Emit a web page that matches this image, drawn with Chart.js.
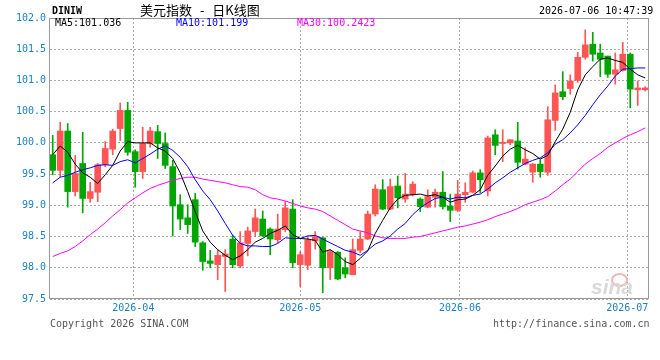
<!DOCTYPE html>
<html>
<head>
<meta charset="utf-8">
<script src="https://cdn.jsdelivr.net/npm/chart.js@4.4.1/dist/chart.umd.min.js"></script>
<style>
  body { margin: 0; background: #fff; }
  #wrap { position: relative; width: 660px; height: 360px; font-family: "DejaVu Sans Mono", monospace; font-size: 10px; }
  #wrap canvas { position: absolute; left: 0; top: 0; }
  .t { position: absolute; white-space: pre; line-height: 12px; }
  .eye { position: absolute; left: 611px; top: 273px; width: 13px; height: 10px; border: 2px solid #f4b4b4; border-radius: 50%; }
</style>
</head>
<body>
<div id="wrap">
  <canvas id="kline" width="660" height="360"></canvas>
  <div class="t" style="left:52px;top:5px;font-weight:bold;">DINIW</div>
  <div class="t" style="left:140px;top:2px;font-family:'Noto Sans CJK SC';font-size:13px;line-height:16px;word-spacing:5px;">美元指数 - 日K线图</div>
  <div class="t" style="left:539px;top:5px;">2026-07-06 10:47:39</div>
  <div class="t" id="ma5txt"  style="left:55px;top:17px;color:#000;"></div>
  <div class="t" id="ma10txt" style="left:176px;top:17px;color:#0000ff;"></div>
  <div class="t" id="ma30txt" style="left:297px;top:17px;color:#ff00ff;"></div>
  <div class="t" style="left:50px;top:318px;color:#555;">Copyright 2026 SINA.COM</div>
  <div class="t" style="left:493px;top:318px;color:#555;">http://finance.sina.com.cn</div>
  <div class="eye"></div>
  <div class="t" style="left:591px;top:276px;font-family:'Liberation Sans';font-size:21px;line-height:22px;font-weight:bold;font-style:italic;color:#d9d9d9;">sina</div>
</div>
<script>
// daily candles, 2026-03-17 .. 2026-07-06 (80 trading days)
const opens = [99.81,99.56,100.19,99.22,99.67,99.11,99.21,99.65,99.90,100.23,
  100.52,99.86,99.54,99.99,100.18,99.99,99.62,99.01,98.80,99.09,
  98.40,98.11,98.05,98.18,98.46,98.03,98.39,98.58,98.78,98.62,
  98.45,98.61,98.94,98.05,98.04,98.43,98.48,98.00,98.25,98.00,
  97.89,98.28,98.46,98.86,99.25,98.94,99.31,99.10,99.17,99.10,
  98.97,99.13,99.21,98.99,98.92,99.17,99.21,99.52,99.23,100.13,
  99.99,100.00,100.03,99.66,99.53,99.66,99.53,100.36,100.82,100.87,
  101.00,101.37,101.58,101.44,101.39,101.10,101.16,101.42,100.85,100.85];
const highs = [100.12,100.33,100.31,99.80,100.17,99.37,99.67,100.02,100.22,100.64,
  100.65,99.89,100.25,100.25,100.28,100.16,99.72,99.17,99.01,99.19,
  98.42,98.28,98.29,98.29,98.52,98.58,98.65,98.94,98.91,98.64,
  98.86,99.06,99.09,98.26,98.51,98.58,98.49,98.29,98.26,98.16,
  98.46,98.58,98.91,99.33,99.41,99.42,99.47,99.51,99.38,99.12,
  99.25,99.26,99.54,99.18,99.40,99.36,99.55,99.57,100.11,100.21,
  100.21,100.05,100.33,99.92,99.67,99.73,100.58,100.93,101.14,101.09,
  101.45,101.81,101.77,101.58,101.39,101.44,101.61,101.44,100.99,100.90];
const lows = [99.49,99.46,98.97,99.15,98.88,99.05,99.06,99.62,99.81,100.04,
  99.80,99.29,99.43,99.93,99.75,99.59,98.51,98.61,98.55,98.34,
  97.96,98.00,97.81,97.62,98.00,98.00,98.19,98.50,98.50,98.21,
  98.40,98.58,98.00,97.70,97.97,98.30,97.60,97.81,97.81,97.84,
  97.89,98.24,98.45,98.83,98.93,98.93,98.96,99.05,99.15,98.90,
  98.96,98.97,98.94,98.74,98.90,99.05,99.20,99.20,99.15,99.81,
  99.70,99.97,99.58,99.65,99.37,99.45,99.48,100.20,100.69,100.78,
  100.97,101.34,101.31,101.06,101.05,100.94,101.15,100.56,100.60,100.83];
const closes = [99.56,100.19,99.22,99.51,99.11,99.22,99.65,99.91,100.19,100.52,
  99.85,99.54,99.99,100.19,99.99,99.64,98.99,98.78,98.69,98.41,
  98.10,98.07,98.20,98.22,98.05,98.40,98.59,98.80,98.51,98.46,
  98.62,98.96,98.08,98.21,98.45,98.50,98.00,98.26,97.82,97.90,
  98.29,98.46,98.86,99.26,98.94,99.30,99.12,99.18,99.34,98.98,
  99.14,99.21,98.98,98.92,99.18,99.21,99.52,99.41,100.08,99.96,
  100.01,100.05,99.69,99.74,99.66,99.54,100.37,100.80,100.74,100.99,
  101.37,101.57,101.42,101.34,101.10,101.17,101.42,100.86,100.88,100.88];

// moving averages as drawn
const ma5 = [99.81,99.95,99.85,99.66,99.52,99.45,99.35,99.49,99.64,99.87,
  100.02,100.00,100.00,100.00,99.92,99.87,99.75,99.52,99.22,98.90,
  98.59,98.41,98.29,98.20,98.13,98.19,98.29,98.41,98.47,98.55,
  98.60,98.67,98.53,98.47,98.46,98.44,98.25,98.29,98.21,98.10,
  98.05,98.15,98.27,98.55,98.76,98.96,99.10,99.16,99.17,99.18,
  99.15,99.17,99.13,99.05,99.09,99.10,99.16,99.25,99.48,99.63,
  99.79,99.90,99.96,99.89,99.83,99.74,99.80,100.02,100.22,100.49,
  100.85,101.09,101.22,101.34,101.36,101.32,101.29,101.18,101.09,101.04];
const ma10 = [99.36,99.45,99.48,99.53,99.57,99.60,99.64,99.65,99.64,99.70,
  99.73,99.68,99.75,99.82,99.90,99.95,99.88,99.77,99.62,99.41,
  99.23,99.09,98.91,98.71,98.52,98.39,98.35,98.35,98.34,98.34,
  98.39,98.48,98.47,98.47,98.51,98.52,98.46,98.40,98.34,98.28,
  98.25,98.20,98.28,98.38,98.43,98.51,98.62,98.71,98.85,98.96,
  99.04,99.11,99.13,99.10,99.13,99.12,99.16,99.18,99.26,99.36,
  99.44,99.53,99.60,99.67,99.72,99.76,99.84,99.98,100.05,100.16,
  100.29,100.44,100.61,100.77,100.91,101.07,101.18,101.19,101.20,101.20];
const ma30 = [98.18,98.23,98.27,98.34,98.43,98.53,98.62,98.72,98.83,98.93,
  99.04,99.12,99.20,99.27,99.32,99.36,99.40,99.43,99.45,99.45,
  99.42,99.40,99.38,99.36,99.33,99.30,99.29,99.25,99.17,99.12,
  99.10,99.07,99.03,98.99,98.96,98.94,98.90,98.83,98.76,98.69,
  98.62,98.59,98.56,98.51,98.48,98.47,98.47,98.47,98.49,98.50,
  98.53,98.56,98.59,98.62,98.65,98.67,98.70,98.73,98.77,98.82,
  98.86,98.90,98.95,99.01,99.05,99.09,99.14,99.23,99.33,99.42,
  99.54,99.66,99.75,99.83,99.93,100.00,100.07,100.13,100.18,100.24];

const maLegend = ["MA5:101.036", "MA10:101.199", "MA30:100.2423"];
const monthTicks = [10.75, 33.0, 54.3, 76.6];   // x-axis positions of month lines
const monthLabels = ["2026-04", "2026-05", "2026-06", "2026-07"];
const yMin = 97.5, yMax = 102.0, yStep = 0.5;

document.getElementById("ma5txt").textContent = maLegend[0];
document.getElementById("ma10txt").textContent = maLegend[1];
document.getElementById("ma30txt").textContent = maLegend[2];

const UP = "#ff5555", DOWN = "#00a600";
const LABEL_BLUE = "#1c80c8";
const GRID = "#aaaaaa";
const MONO = "DejaVu Sans Mono";

const candleColor = closes.map((c, i) => c >= opens[i] ? UP : DOWN);
const pts = arr => arr.map((v, i) => ({ x: i, y: v }));

const frame = {
  id: "frame",
  afterDatasetsDraw(chart) {
    const { ctx, chartArea: a } = chart;
    ctx.save();
    ctx.strokeStyle = "#999";
    ctx.lineWidth = 1;
    ctx.strokeRect(Math.round(a.left) - 0.5, Math.round(a.top) + 0.5,
                   Math.round(a.right - a.left), Math.round(a.bottom - a.top) - 1);
    ctx.restore();
  },
};

new Chart(document.getElementById("kline"), {
  type: "bar",
  data: {
    datasets: [
      { type: "line", label: "MA5",  data: pts(ma5),  borderColor: "#000000", borderWidth: 1, pointRadius: 0, tension: 0, order: 0 },
      { type: "line", label: "MA10", data: pts(ma10), borderColor: "#0000ff", borderWidth: 1, pointRadius: 0, tension: 0, order: 0 },
      { type: "line", label: "MA30", data: pts(ma30), borderColor: "#ff00ff", borderWidth: 1, pointRadius: 0, tension: 0, order: 0 },
      { label: "body", data: opens.map((o, i) => ({ x: i, y: [o, closes[i]] })), backgroundColor: candleColor,
        barThickness: 6, minBarLength: 1, grouped: false, order: 1 },
      { label: "wick", data: lows.map((l, i) => ({ x: i, y: [l, highs[i]] })), backgroundColor: candleColor,
        barThickness: 1, grouped: false, order: 2 },
    ],
  },
  options: {
    responsive: false, animation: false, events: [],
    layout: { padding: { top: 18, right: 11, left: 0, bottom: 0 } },
    plugins: { legend: { display: false }, tooltip: { enabled: false } },
    scales: {
      x: {
        type: "linear", min: -0.36, max: 79.5, offset: false,
        afterBuildTicks: s => { s.ticks = monthTicks.map(v => ({ value: v })); },
        afterFit: s => { s.height = 61; },
        ticks: { autoSkip: false, maxRotation: 0, padding: 3, color: LABEL_BLUE,
                 font: { family: MONO, size: 10 }, callback: (v, i) => monthLabels[i] },
        grid: { color: GRID, drawTicks: false, offset: false },
        border: { display: false, dash: [2, 2] },
      },
      y: {
        min: yMin, max: yMax,
        afterFit: s => { s.width = 50; },
        ticks: { stepSize: yStep, padding: 4, color: LABEL_BLUE,
                 font: { family: MONO, size: 10 }, callback: v => v.toFixed(1) },
        grid: { color: GRID, drawTicks: false },
        border: { display: false, dash: [2, 2] },
      },
    },
  },
  plugins: [frame],
});
</script>
</body>
</html>
